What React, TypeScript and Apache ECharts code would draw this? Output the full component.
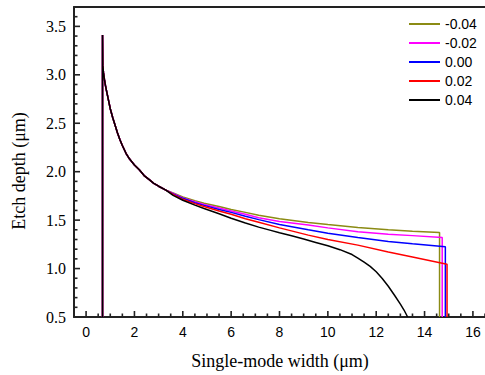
import React, { useEffect, useRef } from "react";
import * as echarts from "echarts";

const seriesNames = ["-0.04", "-0.02", "0.00", "0.02", "0.04"];
const seriesColors = ["#8b8b14", "#ff00ff", "#0000ff", "#ff0000", "#000000"];

// tick positions
const xMajorTicks = [0, 2, 4, 6, 8, 10, 12, 14, 16];
const xMinorTicks = [0.5, 1, 1.5, 2.5, 3, 3.5, 4.5, 5, 5.5, 6.5, 7, 7.5, 8.5, 9, 9.5, 10.5, 11, 11.5, 12.5, 13, 13.5, 14.5, 15, 15.5, 16.5];
const yMajorTicks = [1.0, 1.5, 2.0, 2.5, 3.0, 3.5];
const yMinorTicks = [0.6, 0.7, 0.8, 0.9, 1.1, 1.2, 1.3, 1.4, 1.6, 1.7, 1.8, 1.9, 2.1, 2.2, 2.3, 2.4, 2.6, 2.7, 2.8, 2.9, 3.1, 3.2, 3.3, 3.4, 3.6];

// shared steep left portion (x, y)
const commonStart: number[][] = [
  [0.68, 0.5], [0.68, 3.41], [0.69, 3.1], [0.72, 3.02], [0.76, 2.95], [0.8, 2.89],
  [0.85, 2.83], [0.9, 2.77], [1.0, 2.65], [1.1, 2.56], [1.2, 2.48], [1.3, 2.4],
  [1.4, 2.33], [1.5, 2.27], [1.65, 2.19], [1.8, 2.13], [2.0, 2.07], [2.2, 2.02],
  [2.4, 1.96], [2.6, 1.92], [2.8, 1.88], [3.0, 1.85], [3.3, 1.81],
];

const tailM004: number[][] = [
  [3.6, 1.78], [4.0, 1.74], [4.5, 1.7], [4.88, 1.675], [5.5, 1.64], [6.0, 1.61],
  [6.59, 1.58], [7.14, 1.55], [8.0, 1.515], [9.19, 1.476], [10.0, 1.455],
  [11.24, 1.425], [12.5, 1.4], [13.5, 1.385], [14.62, 1.372], [14.62, 0.5],
];
const tailM002: number[][] = [
  [3.6, 1.775], [4.0, 1.73], [4.5, 1.69], [4.88, 1.662], [5.5, 1.625], [6.0, 1.595],
  [6.59, 1.56], [7.14, 1.525], [8.0, 1.485], [9.19, 1.45], [10.0, 1.42],
  [11.24, 1.38], [12.5, 1.355], [13.5, 1.34], [14.73, 1.32], [14.73, 0.5],
];
const tailP000: number[][] = [
  [3.6, 1.77], [4.0, 1.725], [4.5, 1.68], [4.88, 1.652], [5.5, 1.61], [6.0, 1.58],
  [6.59, 1.54], [7.14, 1.505], [8.0, 1.455], [9.19, 1.4], [10.0, 1.365],
  [11.24, 1.32], [12.5, 1.28], [13.5, 1.255], [14.86, 1.224], [14.86, 0.5],
];
const tailP002: number[][] = [
  [3.6, 1.765], [4.0, 1.715], [4.5, 1.67], [4.88, 1.64], [5.5, 1.595], [6.0, 1.56],
  [6.59, 1.515], [7.14, 1.478], [8.0, 1.42], [9.19, 1.345], [10.0, 1.3],
  [11.24, 1.242], [12.5, 1.17], [13.5, 1.12], [14.93, 1.045], [14.93, 0.5],
];
const tailP004: number[][] = [
  [3.6, 1.755], [4.0, 1.705], [4.5, 1.655], [4.88, 1.62], [5.5, 1.565], [6.0, 1.52],
  [6.59, 1.47], [7.14, 1.428], [7.6, 1.397], [8.0, 1.37], [8.5, 1.338], [9.0, 1.305],
  [9.5, 1.27], [10.0, 1.235], [10.5, 1.195], [11.0, 1.145], [11.24, 1.108],
  [11.5, 1.067], [11.75, 1.022], [12.0, 0.967], [12.25, 0.897], [12.5, 0.817],
  [12.75, 0.727], [13.0, 0.632], [13.15, 0.572], [13.3, 0.5],
];

const tails = [tailM004, tailM002, tailP000, tailP002, tailP004];

const X_MIN = -0.5;
const X_MAX = 16.5;
const Y_MIN = 0.5;
const Y_MAX = 3.7;

export default function App() {
  const ref = useRef<HTMLDivElement>(null);
  useEffect(() => {
    if (!ref.current) return;
    const chart = echarts.init(ref.current, null, { renderer: "svg" });
    const serif = "Liberation Serif";
    const sans = "Liberation Sans";
    const axisColor = "#222222";

    // kind: 0 x-major, 1 x-minor, 2 y-major, 3 y-minor
    const tickData: number[][] = [
      ...xMajorTicks.map((v) => [v, Y_MIN, 0]),
      ...xMinorTicks.map((v) => [v, Y_MIN, 1]),
      ...yMajorTicks.map((v) => [X_MIN, v, 2]),
      ...yMinorTicks.map((v) => [X_MIN, v, 3]),
    ];

    chart.setOption({
      animation: false,
      backgroundColor: "#ffffff",
      grid: { left: 74, top: 7, width: 414, height: 310 },
      legend: {
        orient: "vertical",
        left: 404,
        top: 12,
        itemWidth: 31,
        itemHeight: 2,
        itemGap: 5,
        icon: "rect",
        data: seriesNames,
        textStyle: { fontFamily: sans, fontSize: 14, color: "#000" },
      },
      xAxis: [
        {
          type: "value",
          min: X_MIN,
          max: X_MAX,
          splitNumber: 8,
          axisLine: { show: true, onZero: false, lineStyle: { color: axisColor, width: 2 } },
          axisTick: { show: false },
          splitLine: { show: false },
          axisLabel: {
            showMinLabel: false,
            showMaxLabel: false,
            margin: 8,
            fontFamily: sans,
            fontSize: 14,
            color: "#000",
          },
        },
        {
          type: "value",
          position: "top",
          min: X_MIN,
          max: X_MAX,
          axisLine: { show: true, onZero: false, lineStyle: { color: axisColor, width: 2 } },
          axisTick: { show: false },
          axisLabel: { show: false },
          splitLine: { show: false },
        },
      ],
      yAxis: {
        type: "value",
        min: Y_MIN,
        max: Y_MAX,
        interval: 0.5,
        axisLine: { show: true, onZero: false, lineStyle: { color: axisColor, width: 2 } },
        axisTick: { show: false },
        splitLine: { show: false },
        axisLabel: {
          showMaxLabel: false,
          margin: 8,
          fontFamily: serif,
          fontSize: 16,
          color: "#000",
          formatter: (v: number) => v.toFixed(1),
        },
      },
      graphic: [
        {
          type: "text",
          x: 280,
          y: 361,
          style: {
            text: "Single-mode width (μm)",
            font: "18px 'Liberation Serif'",
            fill: "#000",
            textAlign: "center",
            textVerticalAlign: "middle",
          },
        },
        {
          type: "text",
          x: 19,
          y: 171,
          rotation: Math.PI / 2,
          style: {
            text: "Etch depth (μm)",
            font: "18px 'Liberation Serif'",
            fill: "#000",
            textAlign: "center",
            textVerticalAlign: "middle",
          },
        },
      ],
      series: [
        {
          name: "ticks",
          type: "custom",
          xAxisIndex: 0,
          yAxisIndex: 0,
          clip: false,
          silent: true,
          z: 5,
          data: tickData,
          renderItem: (_params: any, api: any) => {
            const p = api.coord([api.value(0), api.value(1)]);
            const kind = api.value(2);
            const len = kind === 0 || kind === 2 ? 6 : 3.5;
            const shape =
              kind < 2
                ? { x1: p[0], y1: p[1], x2: p[0], y2: p[1] - len }
                : { x1: p[0], y1: p[1], x2: p[0] + len, y2: p[1] };
            return {
              type: "line",
              shape,
              style: { stroke: axisColor, lineWidth: 1.6 },
            };
          },
        },
        ...seriesNames.map((name, i) => ({
          name,
          type: "line",
          xAxisIndex: 0,
          showSymbol: false,
          symbol: "none",
          smooth: false,
          color: seriesColors[i],
          lineStyle: { color: seriesColors[i], width: 1.5 },
          data: [...commonStart, ...tails[i]],
        })),
      ],
    });
    return () => chart.dispose();
  }, []);
  return (
    <div
      ref={ref}
      style={{ position: "absolute", left: 0, top: 0, width: 485, height: 375 }}
    />
  );
}
